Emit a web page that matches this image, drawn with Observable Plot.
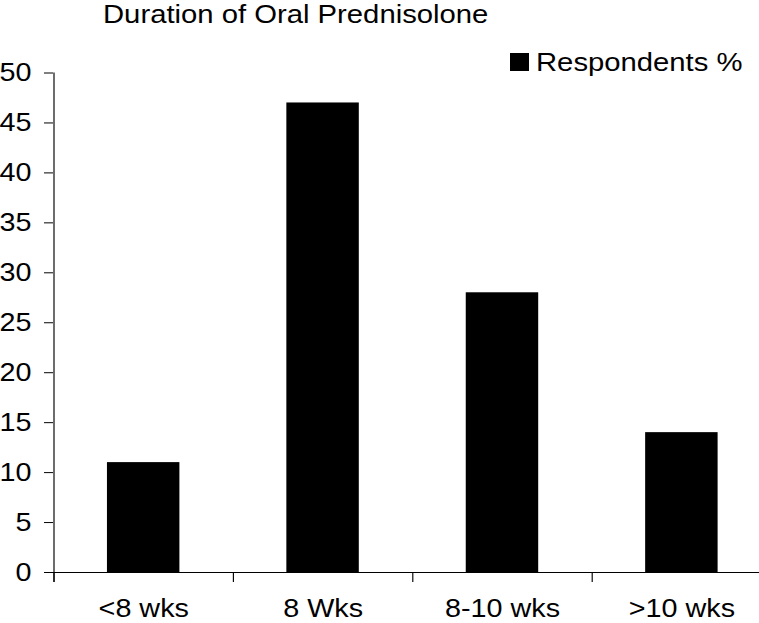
<!DOCTYPE html>
<html>
<head>
<meta charset="utf-8">
<script src="https://cdn.jsdelivr.net/npm/d3@7"></script>
<script src="https://cdn.jsdelivr.net/npm/@observablehq/plot@0.6"></script>
<style>
  html, body { margin: 0; padding: 0; background: #fff; }
  body { width: 759px; height: 623px; overflow: hidden; position: relative;
         font-family: "Liberation Sans", Arial, sans-serif; color: #000; }
  #title { position: absolute; left: 103px; top: 2px; font-size: 25px; line-height: 25px;
           white-space: nowrap; transform: scaleX(1.17); transform-origin: 0 0; }
  #legend { position: absolute; left: 510px; top: 53px; }
  #legend .sw { position: absolute; left: 0; top: 0; width: 19px; height: 18px; background: #000; }
  #legend .lb { position: absolute; left: 26px; top: -3px; font-size: 25px; line-height: 25px;
                white-space: nowrap; transform: scaleX(1.17); transform-origin: 0 0; }
  #chart { position: absolute; left: 0; top: 30px; }
</style>
</head>
<body>
<div id="title">Duration of Oral Prednisolone</div>
<div id="chart"></div>
<div id="legend"><div class="sw"></div><div class="lb">Respondents %</div></div>
<script>
const categories = ["<8 wks", "8 Wks", "8-10 wks", ">10 wks"];
const respondents = [11, 47, 28, 14];
const yTicks = [0, 5, 10, 15, 20, 25, 30, 35, 40, 45, 50];
const seriesName = "Respondents %";

const data = categories.map((c, i) => ({category: c, value: respondents[i]}));

// horizontal stretch of the original picture
const sx = 1.15;
const screenW = 775, H = 593;
const W = screenW / sx;
const mL = 53 / sx, mR = 4 / sx, mT = 42.5, mB = 51;
const step = (W - mL - mR) / categories.length;

const plot = Plot.plot({
  width: W,
  height: H,
  marginLeft: mL,
  marginRight: mR,
  marginTop: mT,
  marginBottom: mB,
  style: {fontFamily: "'Liberation Sans', Arial, sans-serif", fontSize: "25px", color: "#000", background: "#fff"},
  x: {type: "band", domain: categories, paddingInner: 0.593, paddingOuter: 0.2965, axis: null},
  y: {domain: [0, 50], axis: null},
  marks: [
    Plot.barY(data, {x: "category", y: "value", fill: "#000"}),
    Plot.axisY({ticks: yTicks, tickSize: 9 / sx, tickPadding: 13 / sx, fontSize: 25, label: null, tickFormat: d => String(d)}),
    Plot.axisX({ticks: categories, tickSize: 0, tickPadding: 27, fontSize: 25, label: null}),
    // category boundary ticks
    Plot.ruleX(categories, {x: d => d, dx: -step / 2, insetTop: H - mT - mB, insetBottom: -10, stroke: "#000"}),
    // y axis line
    Plot.ruleX([categories[0]], {x: d => d, dx: -step / 2, insetBottom: -10, stroke: "#000"}),
    // x axis line
    Plot.ruleY([0], {stroke: "#000"})
  ]
});
plot.setAttribute("preserveAspectRatio", "none");
plot.setAttribute("width", screenW);
plot.setAttribute("height", H);
plot.style.width = screenW + "px";
plot.style.height = H + "px";
plot.style.maxWidth = "none";
document.getElementById("chart").appendChild(plot);
</script>
</body>
</html>
